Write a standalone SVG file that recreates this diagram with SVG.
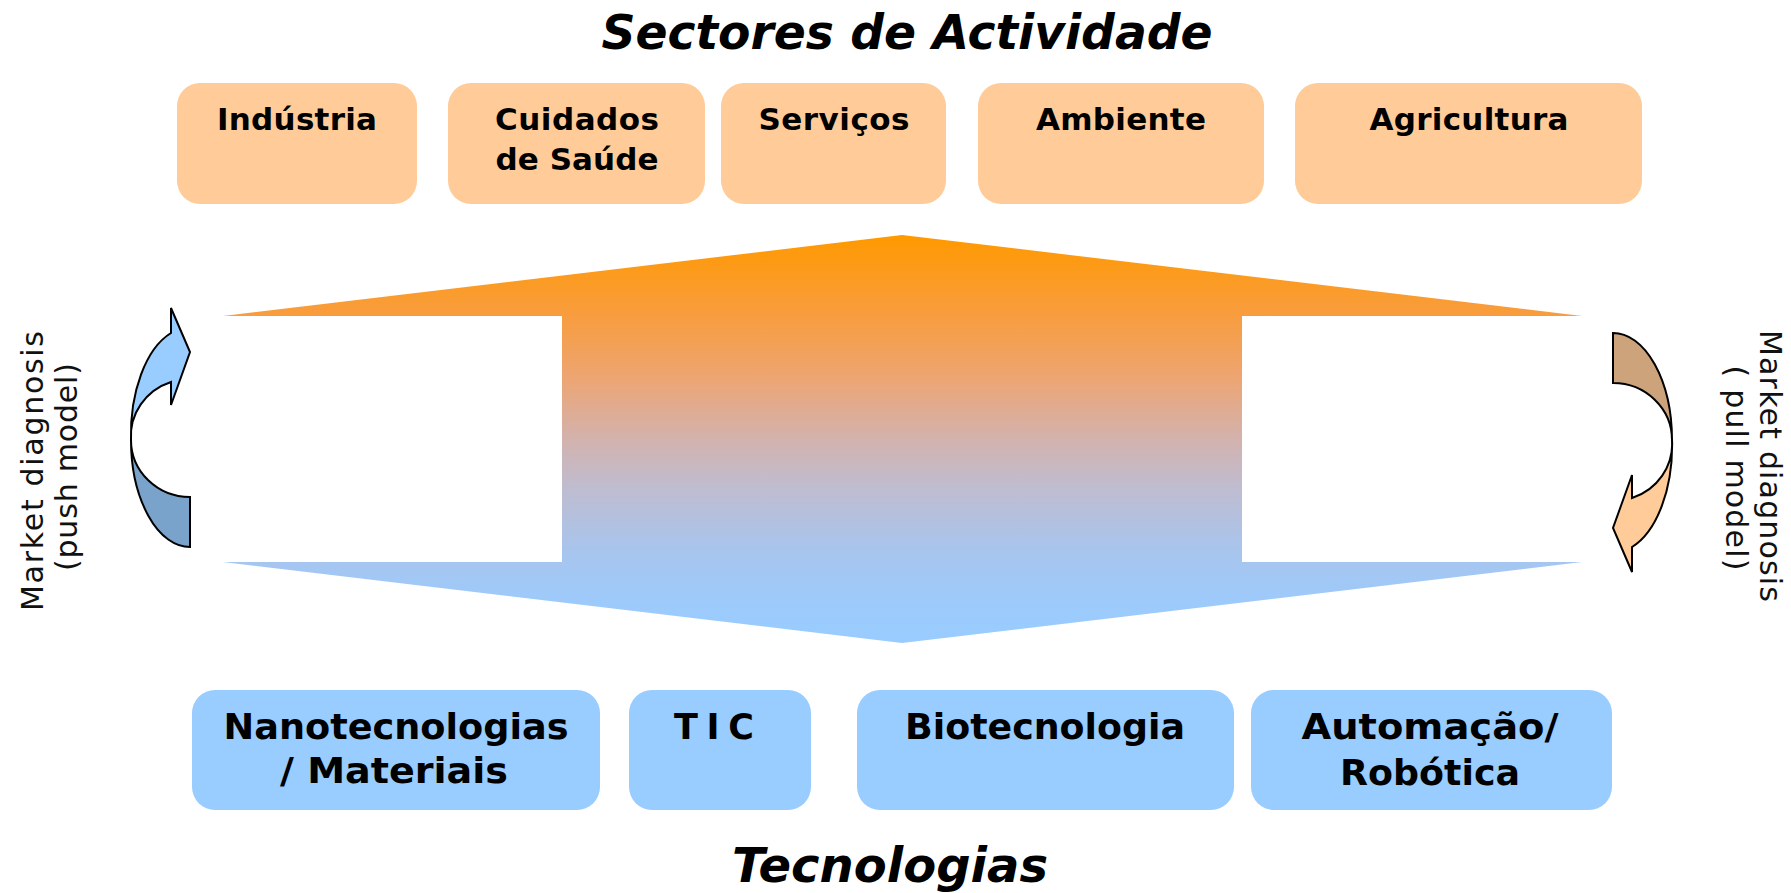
<svg xmlns="http://www.w3.org/2000/svg" width="1791" height="893" viewBox="0 0 1791 893">
  <defs>
    <linearGradient id="bigGrad" gradientUnits="userSpaceOnUse" x1="0" y1="235" x2="0" y2="643">
      <stop offset="0" stop-color="#FF9900"/>
      <stop offset="0.2" stop-color="#F89D40"/>
      <stop offset="0.35" stop-color="#EDA572"/>
      <stop offset="0.5" stop-color="#D3B2AE"/>
      <stop offset="0.62" stop-color="#BFBCD0"/>
      <stop offset="0.78" stop-color="#A7C5EE"/>
      <stop offset="0.9" stop-color="#9DCAFB"/>
      <stop offset="1" stop-color="#99CCFF"/>
    </linearGradient>
  </defs>
  <style>
    .title { font-family: "DejaVu Sans", Verdana, sans-serif; font-weight: bold; font-style: italic; font-size: 48px; fill: #000; text-anchor: middle; }
    .sector { fill: #FFCC99; }
    .tech { fill: #99CCFF; }
    .lblTop { font-family: "DejaVu Sans", Verdana, sans-serif; font-weight: bold; font-size: 31px; fill: #000; text-anchor: middle; }
    .lblBot { font-family: "DejaVu Sans", Verdana, sans-serif; font-weight: bold; font-size: 35px; fill: #000; text-anchor: middle; }
    .side { font-family: "DejaVu Sans", Verdana, sans-serif; font-size: 30px; fill: #111; text-anchor: middle; }
    .arr { stroke: #000; stroke-width: 2; stroke-linejoin: miter; }
  </style>

  <text class="title" x="907" y="49" textLength="611" lengthAdjust="spacingAndGlyphs">Sectores de Actividade</text>
  <text class="title" x="890" y="882" textLength="316" lengthAdjust="spacingAndGlyphs">Tecnologias</text>

  <g id="central-arrow">
    <polygon points="902,235 1582,316 1242,316 1242,562 1582,562 902,643 223,562 562,562 562,316 223,316" fill="url(#bigGrad)"/>
  </g>

  <g id="sector-industria">
    <rect class="sector" x="177" y="83" width="240" height="121" rx="23"/>
    <text class="lblTop" x="297" y="130" textLength="160" lengthAdjust="spacing">Indústria</text>
  </g>
  <g id="sector-cuidados">
    <rect class="sector" x="448" y="83" width="257" height="121" rx="23"/>
    <text class="lblTop" x="577" y="130" textLength="164" lengthAdjust="spacing">Cuidados</text>
    <text class="lblTop" x="577" y="170" textLength="163" lengthAdjust="spacing">de Saúde</text>
  </g>
  <g id="sector-servicos">
    <rect class="sector" x="721" y="83" width="225" height="121" rx="23"/>
    <text class="lblTop" x="834" y="130" textLength="151" lengthAdjust="spacing">Serviços</text>
  </g>
  <g id="sector-ambiente">
    <rect class="sector" x="978" y="83" width="286" height="121" rx="23"/>
    <text class="lblTop" x="1121" y="130" textLength="170" lengthAdjust="spacing">Ambiente</text>
  </g>
  <g id="sector-agricultura">
    <rect class="sector" x="1295" y="83" width="347" height="121" rx="23"/>
    <text class="lblTop" x="1469" y="130" textLength="199" lengthAdjust="spacing">Agricultura</text>
  </g>

  <g id="tech-nano">
    <rect class="tech" x="192" y="690" width="408" height="120" rx="23"/>
    <text class="lblBot" x="396" y="739" textLength="345" lengthAdjust="spacingAndGlyphs">Nanotecnologias</text>
    <text class="lblBot" x="394" y="783" textLength="228" lengthAdjust="spacingAndGlyphs">/ Materiais</text>
  </g>
  <g id="tech-tic">
    <rect class="tech" x="629" y="690" width="182" height="120" rx="23"/>
    <text class="lblBot" x="714" y="739" textLength="80" lengthAdjust="spacing">TIC</text>
  </g>
  <g id="tech-bio">
    <rect class="tech" x="857" y="690" width="377" height="120" rx="23"/>
    <text class="lblBot" x="1045" y="739" textLength="280" lengthAdjust="spacingAndGlyphs">Biotecnologia</text>
  </g>
  <g id="tech-auto">
    <rect class="tech" x="1251" y="690" width="361" height="120" rx="23"/>
    <text class="lblBot" x="1430" y="739" textLength="257" lengthAdjust="spacingAndGlyphs">Automação/</text>
    <text class="lblBot" x="1430" y="785" textLength="180" lengthAdjust="spacingAndGlyphs">Robótica</text>
  </g>

  <g id="connectors">
    <g id="push-arrow">
      <path class="arr" fill="#7AA3CC" d="M131,440 A59,107 0 0 0 190,547 L190,497 A59,57 0 0 1 131,440 Z"/>
      <path class="arr" fill="#99CCFF" d="M171,333 L171,308 L190,352 L171,405 L171,382 A59,57 0 0 0 131,440 A59,107 0 0 1 171,333 Z"/>
    </g>
    <g id="pull-arrow" transform="rotate(180 901.5 440)">
      <path class="arr" fill="#CCA37A" d="M131,440 A59,107 0 0 0 190,547 L190,497 A59,57 0 0 1 131,440 Z"/>
      <path class="arr" fill="#FFCC99" d="M171,333 L171,308 L190,352 L171,405 L171,382 A59,57 0 0 0 131,440 A59,107 0 0 1 171,333 Z"/>
    </g>
  </g>

  <g id="label-push">
    <text class="side" transform="translate(43,471) rotate(-90)" textLength="280" lengthAdjust="spacing">Market diagnosis</text>
    <text class="side" transform="translate(77,467) rotate(-90)" textLength="208" lengthAdjust="spacing">(push model)</text>
  </g>
  <g id="label-pull">
    <text class="side" transform="translate(1760,466) rotate(90)" textLength="272" lengthAdjust="spacing">Market diagnosis</text>
    <text class="side" transform="translate(1726,468) rotate(90)" textLength="205" lengthAdjust="spacing">( pull model)</text>
  </g>
</svg>
